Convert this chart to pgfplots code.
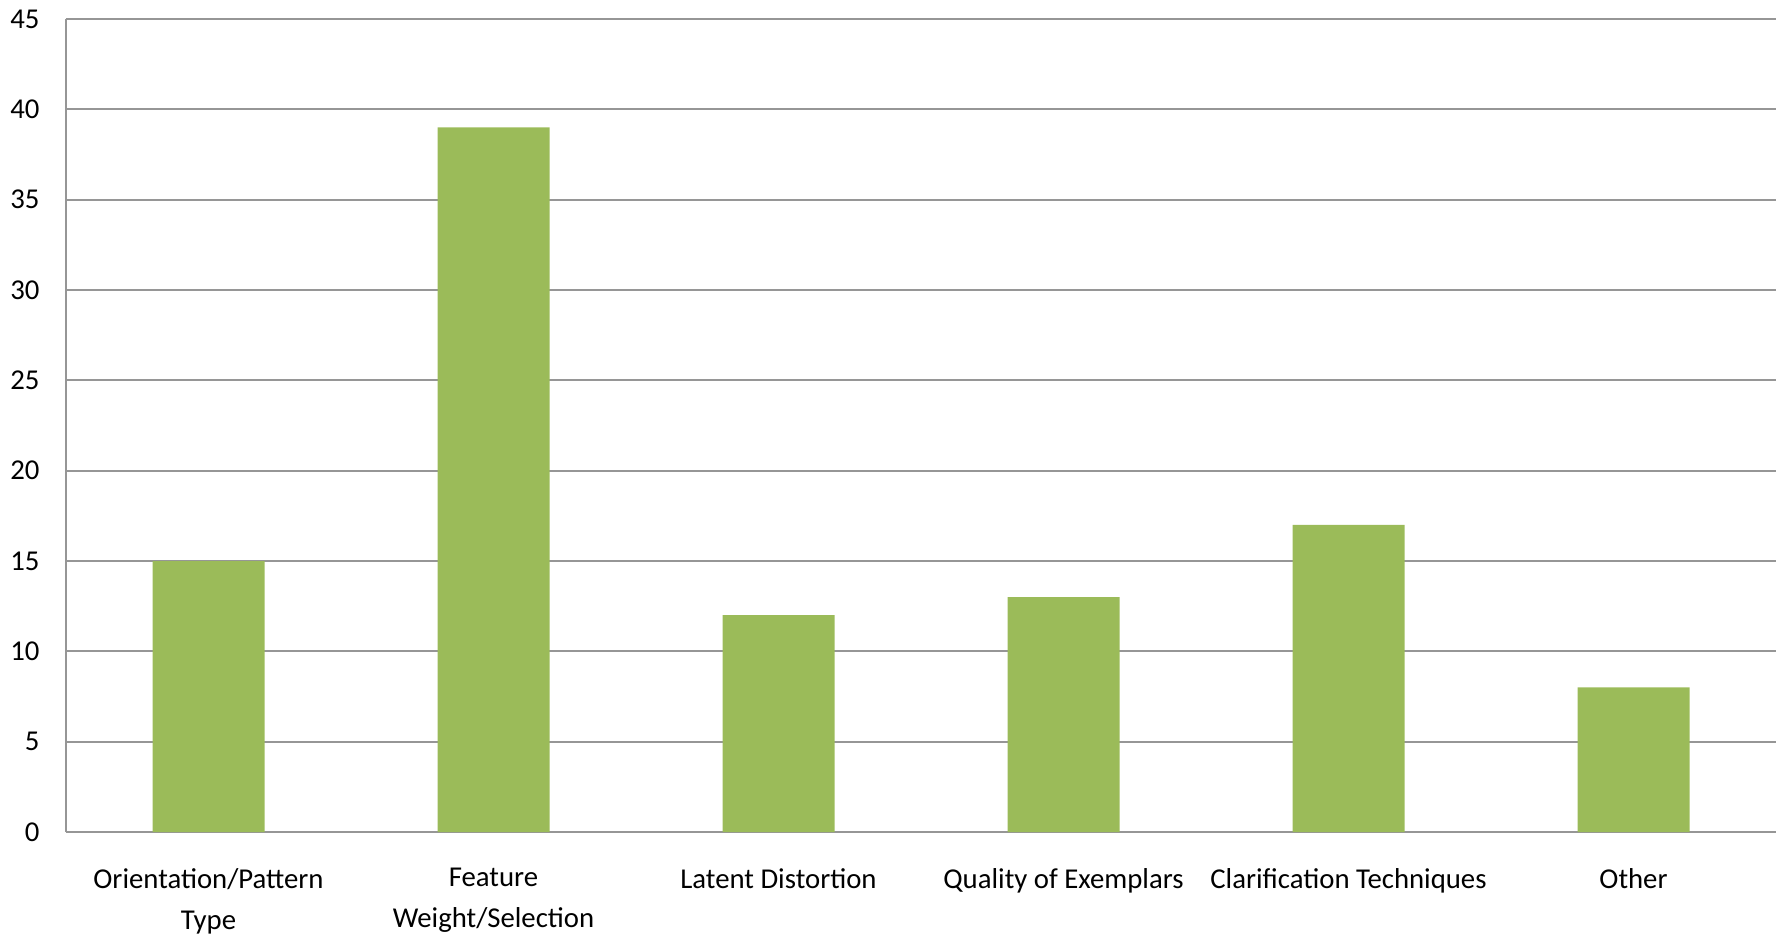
\documentclass[border=0pt]{standalone}
\usepackage{pgfplots}
\pgfplotsset{compat=1.18}
\usepackage{fontspec}
\setmainfont{Carlito}
\definecolor{bargreen}{RGB}{155,187,89}
\definecolor{gridgray}{RGB}{150,150,150}
\begin{document}
\fontsize{11.5}{16.4}\selectfont
\begin{tikzpicture}
\begin{axis}[
  name=ax,
  scale only axis,
  width=684pt, height=325.2pt,
  xmin=-0.5, xmax=5.5, ymin=0, ymax=45,
  ytick={0,5,...,45},
  xtick={0,1,2,3,4,5},
  xticklabels={{Orientation/Pattern\\Type},{Feature\\Weight/Selection},{Latent Distortion},{Quality of Exemplars},{Clarification Techniques},{Other}},
  axis x line*=bottom, axis y line*=left,
  axis line style={-, gridgray, line width=0.9pt},
  ymajorgrids, major grid style={gridgray, line width=0.9pt},
  major tick length=0pt,
  tick label style={font=\fontsize{11.5}{16.4}\selectfont, text=black},
  /pgf/number format/assume math mode=true,
  yticklabel style={anchor=east, xshift=-6.6pt},
  xticklabel style={align=center, anchor=north, yshift=-10.5pt},
  ybar, bar width=44.8pt,
]
\addplot[fill=bargreen, draw=none] coordinates {(0,15) (1,39) (2,12) (3,13) (4,17) (5,8)};
\end{axis}
\pgfresetboundingbox
\path[use as bounding box] ([xshift=-26.4pt,yshift=-41.6pt]ax.south west) rectangle ([xshift=3.6pt,yshift=7.6pt]ax.north east);
\end{tikzpicture}
\end{document}
